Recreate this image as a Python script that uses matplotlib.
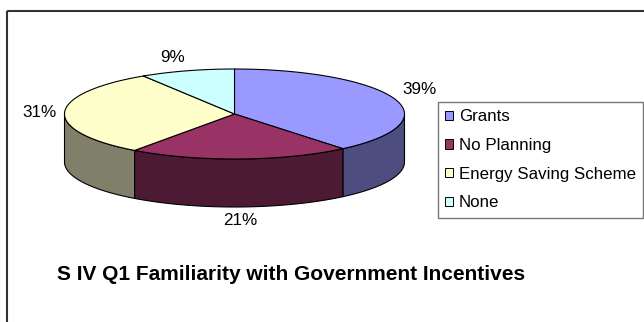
import numpy as np
import matplotlib
matplotlib.use("Agg")
import matplotlib.pyplot as plt
from matplotlib.patches import Polygon, Rectangle, Patch

plt.rcParams["font.family"] = ["Liberation Sans", "DejaVu Sans"]

categories = ["Grants", "No Planning", "Energy Saving Scheme", "None"]
values = [39, 21, 31, 9]
top_colors = ["#9999FF", "#993366", "#FFFFCC", "#CCFFFF"]
side_colors = ["#4D4D80", "#4D1A33", "#80806A", "#668080"]
title = "S IV Q1 Familiarity with Government Incentives"

W, H = 644, 322
fig = plt.figure(figsize=(W / 100, H / 100), dpi=100)
fig.patch.set_facecolor("white")
ax = fig.add_axes([0, 0, 1, 1])
ax.set_xlim(0, W)
ax.set_ylim(H, 0)
ax.axis("off")

# chart area border (right/bottom edges run off the picture)
ax.add_patch(Rectangle((7, 11), 700, 400, facecolor="none",
                       edgecolor="#333333", linewidth=1.5))

cx, cy, rx, ry, depth = 234.5, 114.0, 170.0, 45.0, 48.0


def ellipse_pts(a0, a1, n=120):
    t = np.radians(np.linspace(a0, a1, n))
    return cx + rx * np.cos(t), cy - ry * np.sin(t)


fracs = np.array(values, dtype=float) / sum(values)
edges = 90 - 360 * np.concatenate([[0], np.cumsum(fracs)])

# front walls (only the lower half of the ellipse shows)
for i in range(len(values)):
    lo, hi = edges[i + 1], edges[i]
    while hi <= 180:
        lo += 360
        hi += 360
    s0, s1 = max(lo, 180), min(hi, 360)
    if s1 <= s0:
        continue
    x, y = ellipse_pts(s0, s1)
    px = np.concatenate([x, x[::-1]])
    py = np.concatenate([y, y[::-1] + depth])
    ax.add_patch(Polygon(np.column_stack([px, py]), closed=True,
                         facecolor=side_colors[i], edgecolor="black",
                         linewidth=0.8, joinstyle="round"))

# top faces
for i in range(len(values)):
    x, y = ellipse_pts(edges[i + 1], edges[i])
    px = np.concatenate([[cx], x])
    py = np.concatenate([[cy], y])
    ax.add_patch(Polygon(np.column_stack([px, py]), closed=True,
                         facecolor=top_colors[i], edgecolor="black",
                         linewidth=0.8, joinstyle="round"))

# percent labels
for i, v in enumerate(values):
    mid = np.radians((edges[i] + edges[i + 1]) / 2)
    c, s = np.cos(mid), np.sin(mid)
    lx = cx + (rx + 8) * c
    ly = cy - (ry + 6) * s + (depth if s < 0 else 0)
    ha = "left" if c > 0.2 else ("right" if c < -0.2 else "center")
    va = "bottom" if s > 0.3 else ("top" if s < -0.3 else "center")
    ax.text(lx, ly, f"{v}%", fontsize=12.3, ha=ha, va=va, color="black")

handles = [Patch(facecolor=col, edgecolor="black", linewidth=0.7)
           for col in top_colors]
leg = ax.legend(handles, categories, loc="upper left",
                bbox_to_anchor=(438 / W, 1 - 102 / H),
                bbox_transform=fig.transFigure,
                fontsize=12.2, frameon=True, fancybox=False,
                handlelength=0.46, handleheight=0.46, handletextpad=0.35,
                labelspacing=0.81, borderpad=0.43, borderaxespad=0)
leg.get_frame().set_edgecolor("#555555")
leg.get_frame().set_linewidth(1.0)

ax.text(57, 274, title, fontsize=15.0, fontweight="bold", ha="left",
        va="center", color="black")

fig.savefig("out.png", dpi=100, facecolor="white")
